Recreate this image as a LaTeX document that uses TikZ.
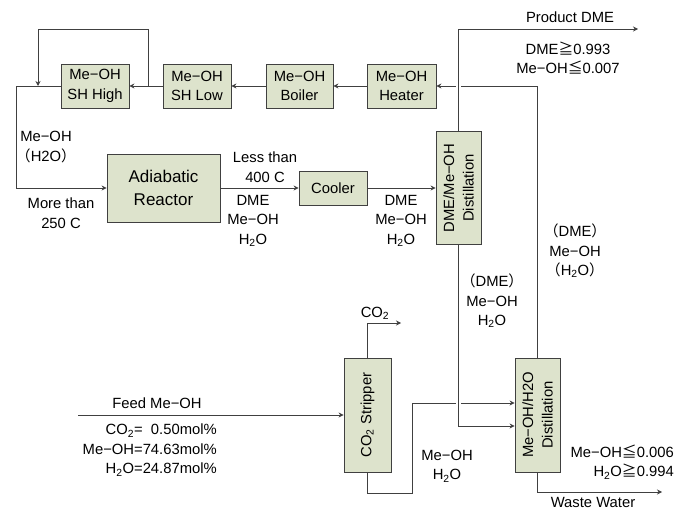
\documentclass[tikz,border=0pt]{standalone}
\usepackage{fontspec}
\setmainfont{Liberation Sans}
\newfontfamily\cjk{Noto Sans CJK JP}
\usetikzlibrary{arrows.meta,calc}
\definecolor{unitfill}{RGB}{221,227,204}
\definecolor{linegray}{RGB}{64,64,64}
\newcommand{\geqj}{{\cjk ≧}}
\newcommand{\leqj}{{\cjk ≦}}
\newcommand{\lpj}{{\cjk （}}
\newcommand{\rpj}{{\cjk ）}}
\newcommand{\water}{H\textsubscript{2}O}

\begin{document}
\begin{tikzpicture}[x=1pt, y=-1pt,
  font=\fontsize{14.8}{19.5}\selectfont,
  unit/.style={draw=linegray, fill=unitfill, line width=0.8pt, align=center, inner sep=0pt},
  flow/.style={draw=linegray, line width=0.8pt, -{Stealth[length=5pt,width=5pt]}},
  bridge/.style={preaction={draw=white, line width=5pt, -}},
  txt/.style={align=center, inner sep=0pt}]
  \useasboundingbox (0,0) rectangle (676,510);

  % Top row
  \node[unit, minimum width=68pt, minimum height=44pt] (shhigh) at (95,86) {Me−OH\\SH High};
  \node[unit, minimum width=68pt, minimum height=44pt] (shlow) at (197,86) {Me−OH\\SH Low};
  \node[unit, minimum width=67pt, minimum height=44pt] (boiler) at (299.5,86) {Me−OH\\Boiler};
  \node[unit, minimum width=69pt, minimum height=44pt] (heater) at (401.5,86) {Me−OH\\Heater};

  % Middle row
  \node[unit, minimum width=113pt, minimum height=68pt, font=\fontsize{17}{23}\selectfont] (reactor) at (163.5,188) {Adiabatic\\Reactor};
  \node[unit, minimum width=68pt, minimum height=34pt] (cooler) at (333,188) {Cooler};
  \node[unit, minimum width=45pt, minimum height=113pt] (dmecol) at (458.5,188) {};
  \node[txt, rotate=90] (dmecoltxt) at (dmecol) {DME/Me−OH\\Distillation};

  % Bottom row
  \node[unit, minimum width=47pt, minimum height=114pt] (stripper) at (367.5,415) {};
  \node[txt, rotate=90] (strippertxt) at (stripper) {CO\textsubscript{2} Stripper};
  \node[unit, minimum width=45pt, minimum height=114pt] (watercol) at (537.5,415) {};
  \node[txt, rotate=90] (watercoltxt) at (watercol) {Me−OH/H2O\\Distillation};

  % Free ends
  \coordinate (split) at (148,86);
  \coordinate (looptop) at (38,29);
  \coordinate (loopjoin) at (38,86);
  \coordinate (bend) at (16,188);
  \coordinate (product) at (638,29);
  \coordinate (co2out) at (401,323);
  \coordinate (feed) at (78,415);
  \coordinate (jog) at (412,493);
  \coordinate (waste) at (662,492);

  % Streams
  \draw[flow] (heater.west) -- (boiler.east);
  \draw[flow] (boiler.west) -- (shlow.east);
  \draw[flow] (shlow.west) -- (shhigh.east);
  \draw[flow] (split) |- (looptop) -- (loopjoin);
  \draw[flow] (shhigh.west) -| (bend) -- (reactor.west);
  \draw[flow] (reactor.east) -- (cooler.west);
  \draw[flow] (cooler.east) -- (dmecol.west);
  \draw[flow] (watercol.north) |- (heater.east);
  \draw[flow, bridge] (dmecol.north) |- (product);
  \draw[flow] (stripper.north) |- (co2out);
  \draw[flow] (feed) -- (stripper.west);
  \draw[flow] (stripper.south) |- (jog) |- ($(watercol.west)+(0,-12)$);
  \draw[flow, bridge] (dmecol.south) |- ($(watercol.west)+(0,11)$);
  \draw[flow] (watercol.south) |- (waste);

  % Stream labels
  \node[txt] (prodlbl) at (570,17) {Product DME};
  \node[txt] (prodspec) at (568,58) {DME\geqj0.993\\Me−OH\leqj0.007};
  \node[txt] (recyclbl) at (46,147) {Me−OH\\\lpj H2O\rpj};
  \node[txt] (inletlbl) at (61,213) {More than\\250 C};
  \node[txt] (outletlbl) at (265,167) {Less than\\400 C};
  \node[txt] (rxmix) at (253,221) {DME\\Me−OH\\\water};
  \node[txt] (coolmix) at (401,221) {DME\\Me−OH\\\water};
  \node[txt] (recycmix) at (575,251) {\lpj DME\rpj\\Me−OH\\\lpj\water\rpj};
  \node[txt] (bottmix) at (492,301) {\lpj DME\rpj\\Me−OH\\\water};
  \node[txt] (co2lbl) at (375,313) {CO\textsubscript{2}};
  \node[txt] (feedlbl) at (157,403) {Feed Me−OH};
  \node[txt, align=right, anchor=east] (feedspec) at (217,450) {CO\textsubscript{2}=\ \ 0.50mol\%\\Me−OH=74.63mol\%\\\water=24.87mol\%};
  \node[txt] (strippmix) at (447,466) {Me−OH\\\water};
  \node[txt, align=right, anchor=east] (wastespec) at (674,462) {Me−OH\leqj0.006\\\water\geqj0.994};
  \node[txt] (wastelbl) at (593,502) {Waste Water};
\end{tikzpicture}
\end{document}
